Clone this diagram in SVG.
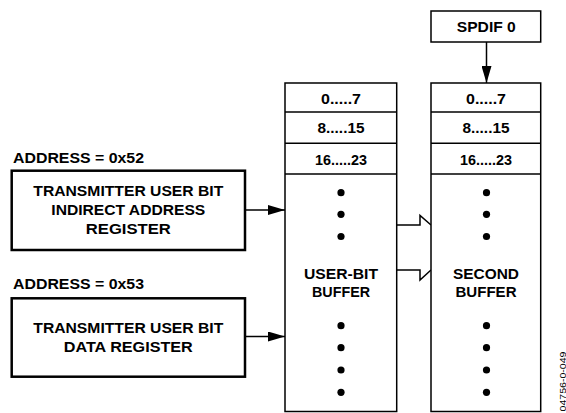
<svg xmlns="http://www.w3.org/2000/svg" width="566" height="413" viewBox="0 0 566 413">
<style>
text{font-family:"Liberation Sans",Arial,sans-serif;font-weight:bold;font-size:15px;fill:#000;text-anchor:middle}
.lbl{text-anchor:start}
.reg{fill:#fff;stroke:#000;stroke-width:2.5}
.buf{fill:#fff;stroke:#000;stroke-width:1.5}
.ln{fill:none;stroke:#000;stroke-width:1.5}
.dot{fill:#000}
.id{font-weight:normal;font-size:9px;text-anchor:start}
</style>
<defs>
<marker id="ah" markerWidth="17" markerHeight="10" refX="17" refY="5" orient="auto" markerUnits="userSpaceOnUse">
<path d="M0,0 L17,5 L0,10 Z" fill="#000"/>
</marker>
</defs>
<g id="connectors">
<line class="ln" x1="486.5" y1="42" x2="486.5" y2="83" marker-end="url(#ah)"/>
<line class="ln" x1="245" y1="210" x2="285" y2="210" marker-end="url(#ah)"/>
<line class="ln" x1="245" y1="336.5" x2="285" y2="336.5" marker-end="url(#ah)"/>
<polyline class="ln" points="397,225 420,225 420,215.5 431,225"/>
<polyline class="ln" points="397,270 420,270 420,280 431,270"/>
</g>
<g id="addr52"><text class="lbl" x="13" y="162.5" textLength="131" lengthAdjust="spacingAndGlyphs">ADDRESS = 0x52</text></g>
<g id="addr53"><text class="lbl" x="13" y="288.5" textLength="131" lengthAdjust="spacingAndGlyphs">ADDRESS = 0x53</text></g>
<g id="reg1">
<rect class="reg" x="11.7" y="170.7" width="233.3" height="79.3"/>
<text x="128.3" y="196" textLength="190" lengthAdjust="spacingAndGlyphs">TRANSMITTER USER BIT</text>
<text x="128.3" y="215" textLength="154" lengthAdjust="spacingAndGlyphs">INDIRECT ADDRESS</text>
<text x="128.3" y="234" textLength="85" lengthAdjust="spacingAndGlyphs">REGISTER</text>
</g>
<g id="reg2">
<rect class="reg" x="11.7" y="298.3" width="233.3" height="78.4"/>
<text x="128.3" y="333.3" textLength="190" lengthAdjust="spacingAndGlyphs">TRANSMITTER USER BIT</text>
<text x="128.3" y="351.7" textLength="129" lengthAdjust="spacingAndGlyphs">DATA REGISTER</text>
</g>
<g id="spdif">
<rect class="buf" x="431" y="11" width="109.7" height="31"/>
<text x="486.3" y="31.7" textLength="59" lengthAdjust="spacingAndGlyphs">SPDIF 0</text>
</g>
<g id="userbuf">
<rect class="buf" x="285" y="83" width="111.7" height="328.5"/>
<line class="ln" x1="285" y1="112" x2="396.7" y2="112"/>
<line class="ln" x1="285" y1="143.3" x2="396.7" y2="143.3"/>
<line class="ln" x1="285" y1="174" x2="396.7" y2="174"/>
<text x="341" y="104.3" textLength="40" lengthAdjust="spacingAndGlyphs">0.....7</text>
<text x="341" y="133.3" textLength="47" lengthAdjust="spacingAndGlyphs">8.....15</text>
<text x="341" y="164.8" textLength="52" lengthAdjust="spacingAndGlyphs">16.....23</text>
<circle class="dot" cx="341" cy="192.7" r="3.6"/>
<circle class="dot" cx="341" cy="214.3" r="3.6"/>
<circle class="dot" cx="341" cy="236.5" r="3.6"/>
<text x="341" y="279.3" textLength="74" lengthAdjust="spacingAndGlyphs">USER-BIT</text>
<text x="341" y="296.7" textLength="58" lengthAdjust="spacingAndGlyphs">BUFFER</text>
<circle class="dot" cx="341" cy="325.7" r="3.6"/>
<circle class="dot" cx="341" cy="347.7" r="3.6"/>
<circle class="dot" cx="341" cy="370" r="3.6"/>
<circle class="dot" cx="341" cy="392.3" r="3.6"/>
</g>
<g id="secondbuf">
<rect class="buf" x="431" y="83" width="109.7" height="328.5"/>
<line class="ln" x1="431" y1="112" x2="540.7" y2="112"/>
<line class="ln" x1="431" y1="143.3" x2="540.7" y2="143.3"/>
<line class="ln" x1="431" y1="174" x2="540.7" y2="174"/>
<text x="486" y="104.3" textLength="40" lengthAdjust="spacingAndGlyphs">0.....7</text>
<text x="486" y="133.3" textLength="47" lengthAdjust="spacingAndGlyphs">8.....15</text>
<text x="486" y="164.8" textLength="52" lengthAdjust="spacingAndGlyphs">16.....23</text>
<circle class="dot" cx="486.5" cy="192.7" r="3.6"/>
<circle class="dot" cx="486.5" cy="214.3" r="3.6"/>
<circle class="dot" cx="486.5" cy="236.5" r="3.6"/>
<text x="486" y="279.3" textLength="66" lengthAdjust="spacingAndGlyphs">SECOND</text>
<text x="486" y="296.7" textLength="61" lengthAdjust="spacingAndGlyphs">BUFFER</text>
<circle class="dot" cx="486.5" cy="325.7" r="3.6"/>
<circle class="dot" cx="486.5" cy="347.7" r="3.6"/>
<circle class="dot" cx="486.5" cy="370" r="3.6"/>
<circle class="dot" cx="486.5" cy="392.3" r="3.6"/>
</g>
<text class="id" transform="translate(565.5,411.5) rotate(-90)" textLength="60" lengthAdjust="spacingAndGlyphs">04756-0-049</text>
</svg>
